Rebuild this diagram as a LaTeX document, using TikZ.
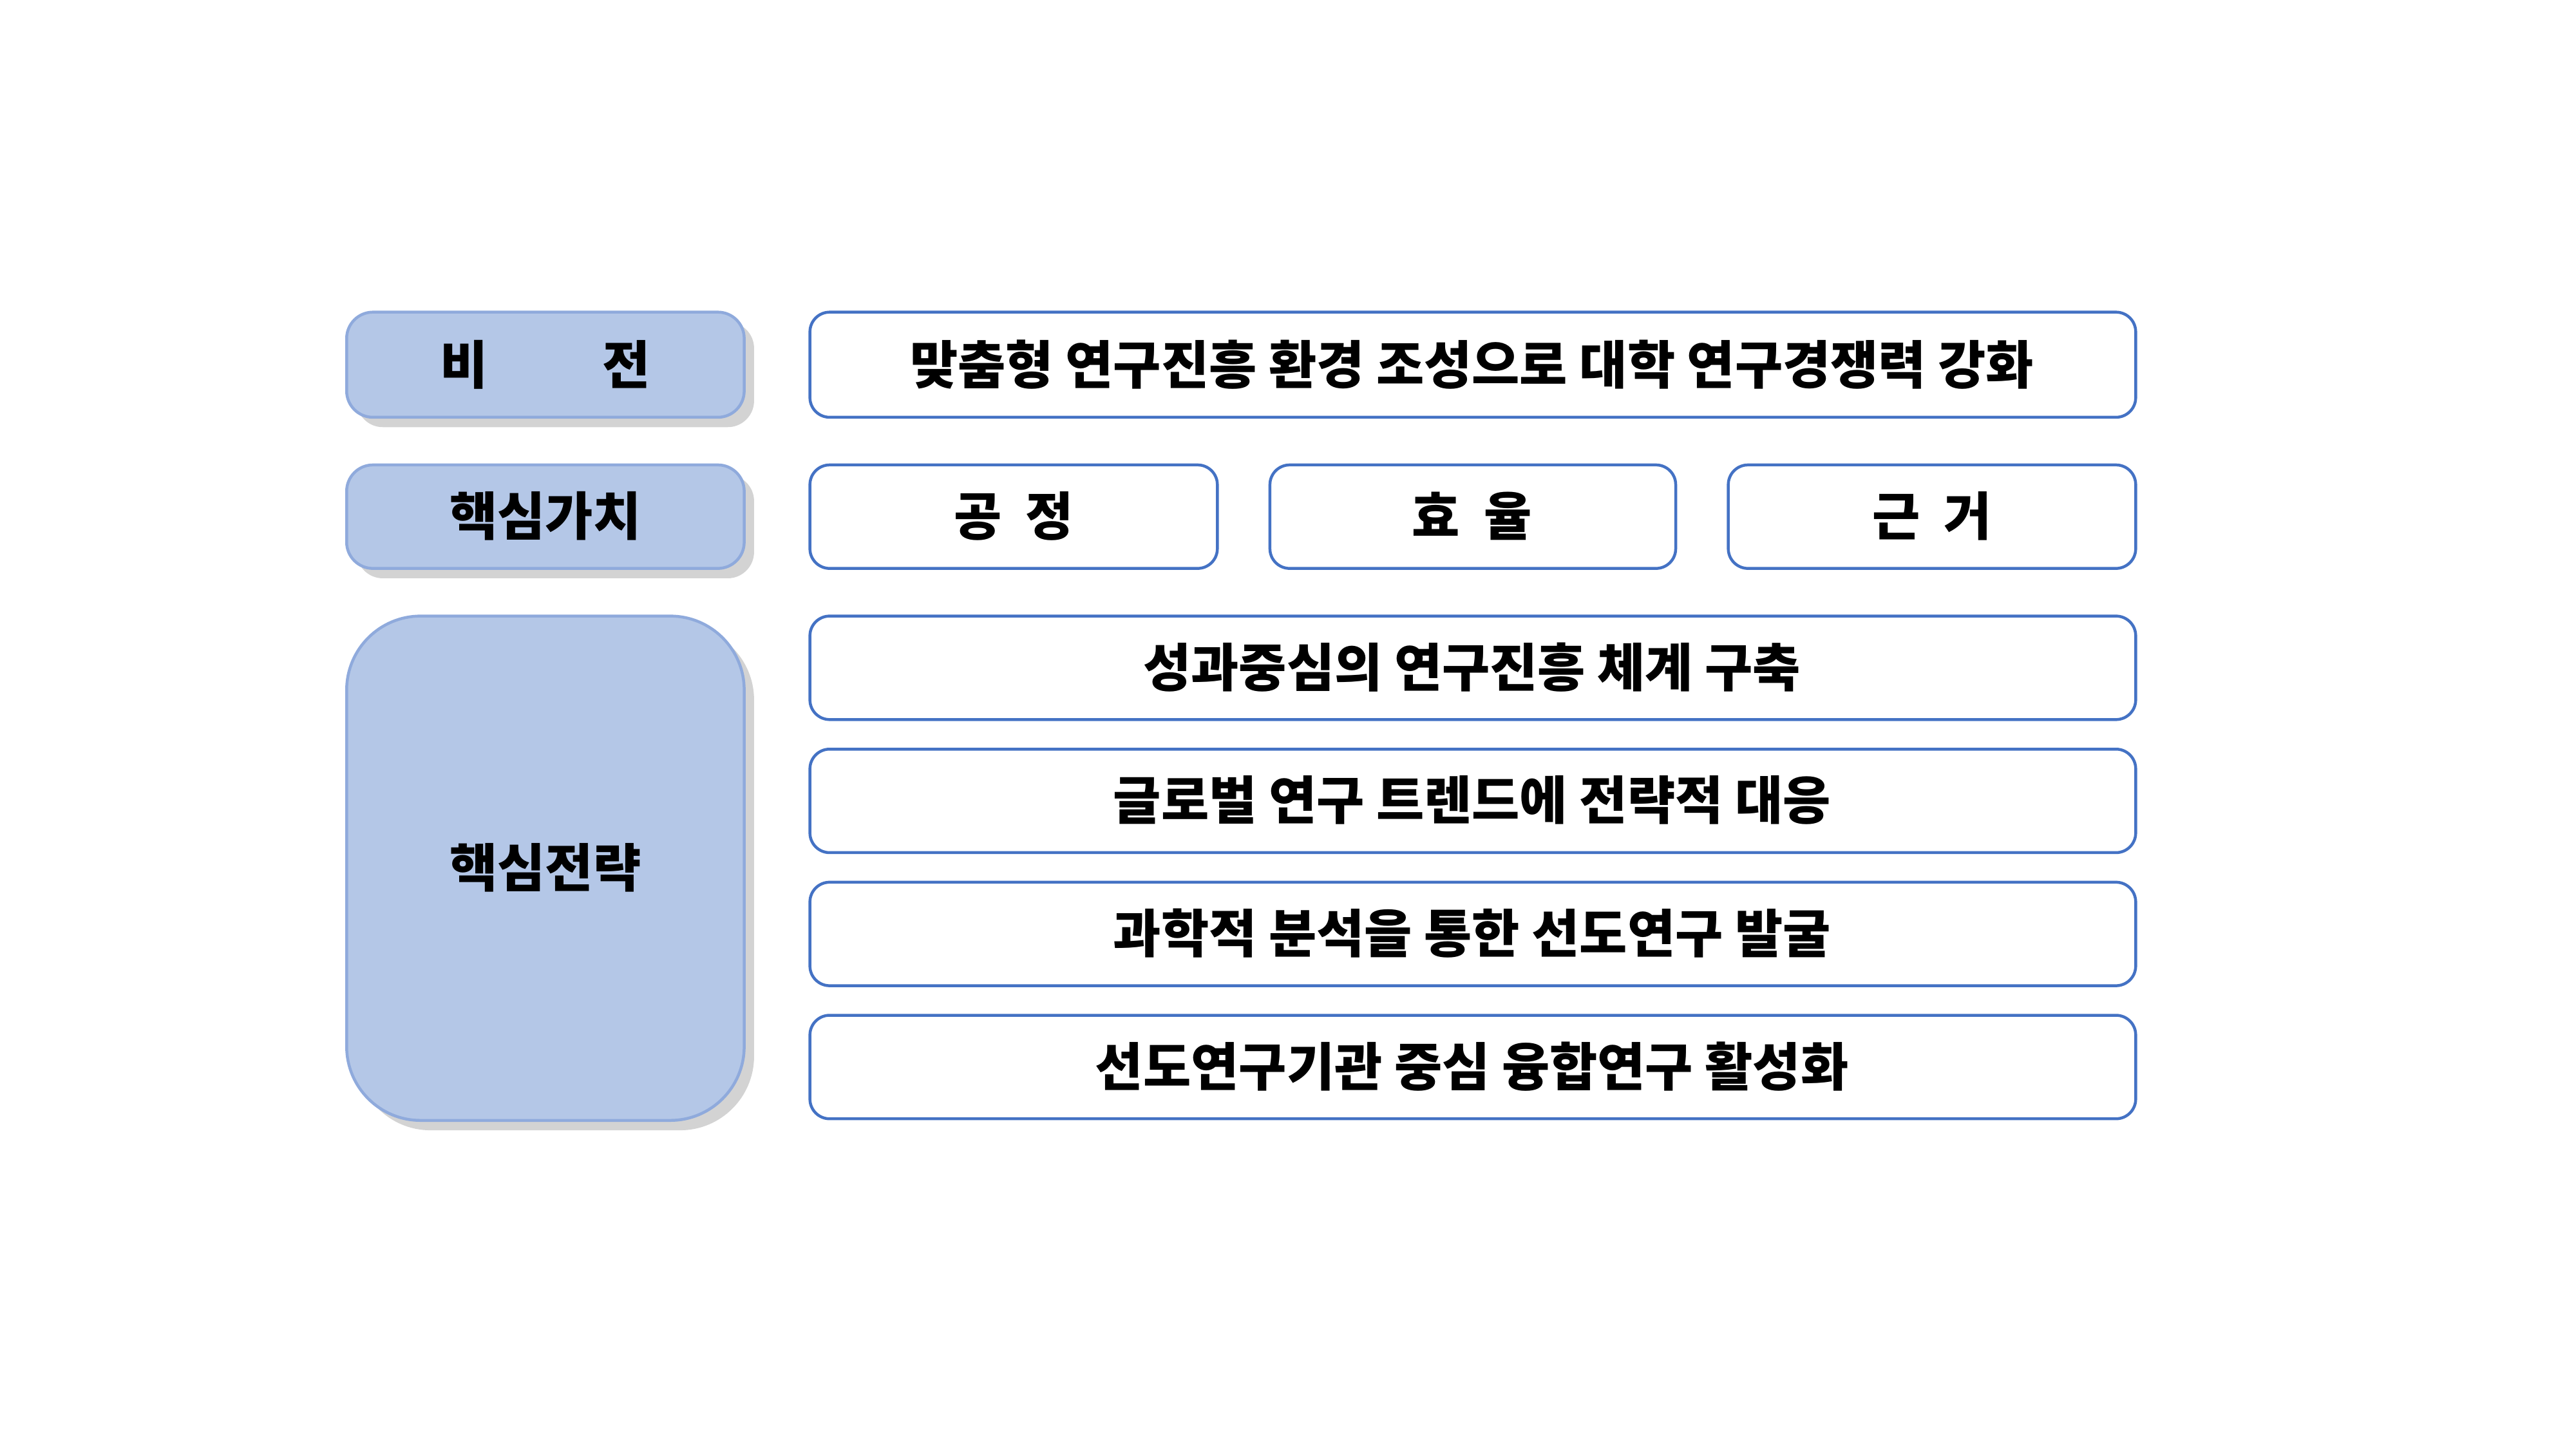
\documentclass[tikz,border=0pt]{standalone}
\usepackage{fontspec}
\newfontfamily\cjk{Noto Sans CJK KR}
\usetikzlibrary{shadows}
\definecolor{lfill}{HTML}{B4C7E7}
\definecolor{lline}{HTML}{8FAADC}
\definecolor{rline}{HTML}{4472C4}
\begin{document}
\begin{tikzpicture}[x=0.01cm,y=-0.01cm,
  lbox/.style={draw=lline,fill=lfill,line width=0.5pt,rounded corners=1.6mm,drop shadow={shadow xshift=0.6mm,shadow yshift=-0.6mm,opacity=0.35}},
  rbox/.style={draw=rline,fill=white,line width=0.5pt,rounded corners=1.2mm},
  txt/.style={font=\cjk\fontsize{9}{10}\selectfont\bfseries}]
\useasboundingbox (0,0) rectangle (1568,882);
\draw[lbox] (211,190) rectangle (453,254);
\node[txt] (v) at (332,222) {비\hspace{2.2em}전};
\draw[lbox] (211,283) rectangle (453,346);
\node[txt] (c) at (332,314) {핵심가치};
\draw[lbox,rounded corners=4.5mm] (211,375) rectangle (453,682);
\node[txt] (s) at (332,528) {핵심전략};
\draw[rbox] (493,190) rectangle (1300,254);
\node[txt] (vt) at (896,222) {맞춤형 연구진흥 환경 조성으로 대학 연구경쟁력 강화};
\draw[rbox] (493,283) rectangle (741,346);
\node[txt] (c1) at (617,314) {공\ \ 정};
\draw[rbox] (773,283) rectangle (1020,346);
\node[txt] (c2) at (896,314) {효\ \ 율};
\draw[rbox] (1052,283) rectangle (1300,346);
\node[txt] (c3) at (1176,314) {근\ \ 거};
\draw[rbox] (493,375) rectangle (1300,438);
\node[txt] (s1) at (896,406) {성과중심의 연구진흥 체계 구축};
\draw[rbox] (493,456) rectangle (1300,519);
\node[txt] (s2) at (896,487) {글로벌 연구 트렌드에 전략적 대응};
\draw[rbox] (493,537) rectangle (1300,600);
\node[txt] (s3) at (896,568) {과학적 분석을 통한 선도연구 발굴};
\draw[rbox] (493,618) rectangle (1300,681);
\node[txt] (s4) at (896,649) {선도연구기관 중심 융합연구 활성화};
\end{tikzpicture}
\end{document}
